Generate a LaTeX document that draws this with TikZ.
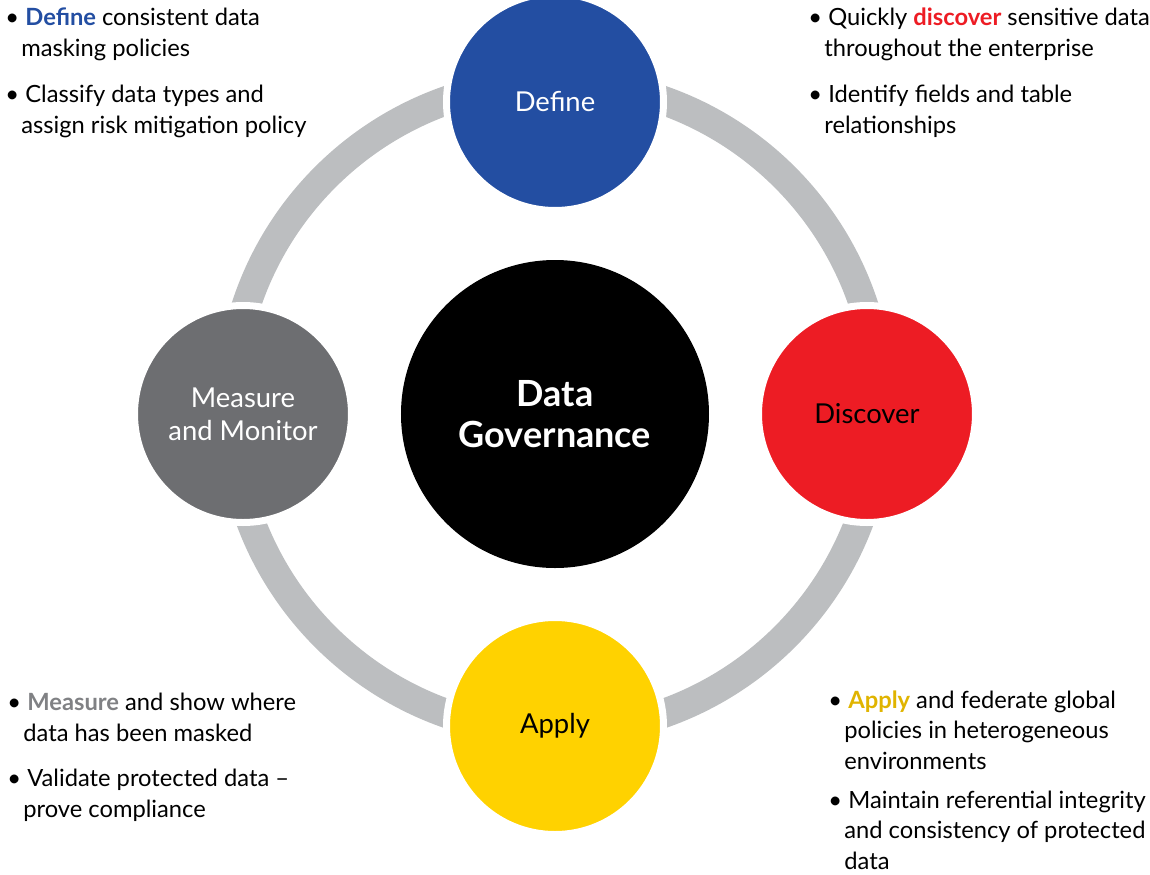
\documentclass[tikz,border=0pt]{standalone}
\usepackage{fontspec}
\setmainfont{Lato}

\definecolor{defblue}{RGB}{35,78,162}
\definecolor{discred}{RGB}{237,28,36}
\definecolor{applyyellow}{RGB}{255,210,0}
\definecolor{applygold}{RGB}{224,180,0}
\definecolor{measuregray}{RGB}{109,110,113}
\definecolor{measuretext}{RGB}{128,129,132}
\definecolor{ringgray}{RGB}{188,190,192}

\newcommand{\bul}{\makebox[0.4cm][l]{\textbullet}}
\newcommand{\ind}{\hspace*{0.32cm}}

\tikzset{
	stage/.style={circle, minimum size=4.34cm, inner sep=0pt, draw=white, line width=0.14cm, align=center, font=\fontsize{15.6}{18.8}\selectfont},
	notes/.style={anchor=base west, align=left, inner sep=0pt},
}

\begin{document}
\begin{tikzpicture}[font=\fontsize{13.5}{17.1}\selectfont]

	\def \orbit{6.24};
	\def \ringr{6.5};

	\useasboundingbox (-11.1,-9.2) rectangle (11.9,8.28);

	% ring
	\draw[ringgray, line width=0.58cm] (0,0.14) circle (\ringr cm);

	% center
	\node[circle, fill=black, minimum size=6.16cm, inner sep=0pt, align=center, text=white, font=\bfseries\fontsize{20.5}{23.3}\selectfont] (govern) at (0,0) {Data\\Governance};

	% stages
	\node[stage, fill=defblue, text=white] (define) at (0,\orbit) {Define};
	\node[stage, fill=discred, text=black] (discover) at (\orbit,0) {Discover};
	\node[stage, fill=applyyellow, text=black] (apply) at (0,-\orbit) {Apply};
	\node[stage, fill=measuregray, text=white] (measure) at (-\orbit,0) {Measure\\and Monitor};

	% notes (placed at the baseline of their last line)
	\node[notes] (defineA) at (-11.0,7.16) {\bul\textcolor{defblue}{\bfseries Define} consistent data\\\ind masking policies};
	\node[notes] (defineB) at (-11.0,5.62) {\bul Classify data types and\\\ind assign risk mitigation policy};

	\node[notes] (discoverA) at (5.06,7.16) {\bul Quickly \textcolor{discred}{\bfseries discover} sensitive data\\\ind throughout the enterprise};
	\node[notes] (discoverB) at (5.06,5.62) {\bul Identify fields and table\\\ind relationships};

	\node[notes] (measureA) at (-10.96,-6.54) {\bul\textcolor{measuretext}{\bfseries Measure} and show where\\\ind data has been masked};
	\node[notes] (measureB) at (-10.96,-8.06) {\bul Validate protected data --\\\ind prove compliance};

	\node[notes] (applyA) at (5.46,-7.10) {\bul\textcolor{applygold}{\bfseries Apply} and federate global\\\ind policies in heterogeneous\\\ind environments};
	\node[notes] (applyB) at (5.46,-9.10) {\bul Maintain referential integrity\\\ind and consistency of protected\\\ind data};

\end{tikzpicture}
\end{document}
